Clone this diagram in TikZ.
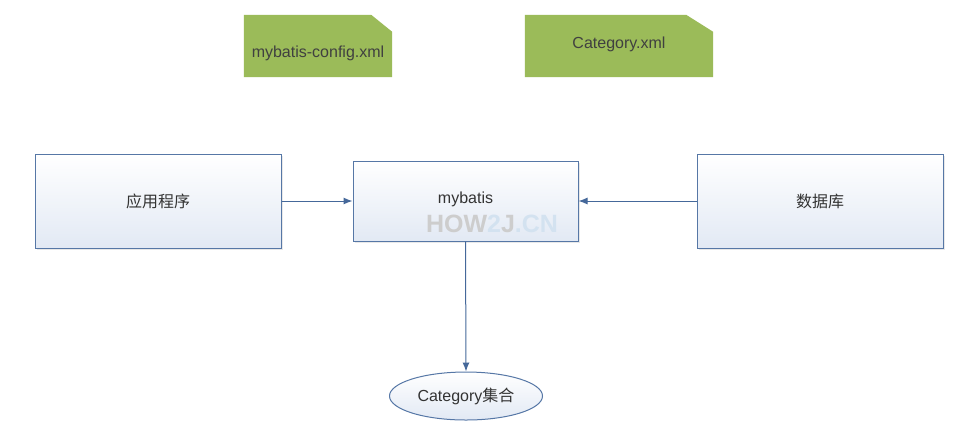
\documentclass[tikz,border=0pt]{standalone}
\usepackage{fontspec}
\setmainfont{Liberation Sans}
\newfontfamily\cjk{Noto Sans CJK SC}
\usetikzlibrary{arrows.meta,shapes.geometric,shadows,backgrounds}
\definecolor{docgreen}{HTML}{9BBB59}
\definecolor{boxline}{HTML}{5677A6}
\definecolor{boxfill}{HTML}{E2E9F4}
\definecolor{arrowblue}{HTML}{45689A}
\definecolor{markgray}{HTML}{CDCDCD}
\definecolor{markblue}{HTML}{D3E2F0}
\begin{document}
\begin{tikzpicture}[x=1pt, y=-1pt,
    font=\fontsize{16}{19}\selectfont,
    doc/.style={minimum height=62pt, inner sep=0pt},
    doctext/.style={text=black!75},
    box/.style={draw=boxline, line width=1pt, top color=white, bottom color=boxfill,
        minimum width=246pt, minimum height=94pt, text=black!80,
        drop shadow={opacity=0.18, shadow xshift=1.5pt, shadow yshift=-1.5pt}},
    link/.style={draw=arrowblue, line width=1pt, -{Latex[length=9pt,width=7pt]}}]
    \useasboundingbox (0,0) rectangle (965,432);

    % config files
    \node[doc, minimum width=148pt,
        label={[doctext, yshift=-7pt]center:mybatis-config.xml}] (cfg) at (318,46) {};
    \node[doc, minimum width=188pt,
        label={[doctext, yshift=2pt]center:Category.xml}] (cat) at (619,46) {};
    \begin{scope}[on background layer]
        \fill[docgreen] (cfg.south west) -- (cfg.north west) -- ([xshift=-21pt]cfg.north east)
            -- ([yshift=-17pt]cfg.north east) -- (cfg.south east) -- cycle;
        \fill[docgreen] (cat.south west) -- (cat.north west) -- ([xshift=-27pt]cat.north east)
            -- ([yshift=-17pt]cat.north east) -- (cat.south east) -- cycle;
    \end{scope}

    % main boxes
    \node[box] (app) at (158,201) {\cjk 应用程序};
    \node[box, minimum width=225pt, minimum height=80pt] (mb) at (465.5,201) {};
    \node[box] (db) at (820,201) {\cjk 数据库};
    \node[text=black!80] (mbtext) at (465.5,199) {mybatis};
    \node[font=\fontsize{25}{28}\selectfont\bfseries] (mark) at (492,224)
        {\textcolor{markgray}{HOW}\textcolor{markblue}{2}\textcolor{markgray}{J}\textcolor{markblue}{.CN}};

    % result
    \node[ellipse, draw=boxline, line width=1pt, top color=white, bottom color=boxfill,
        minimum width=153pt, minimum height=48pt, inner sep=0pt, text=black!80] (res) at (466,396)
        {Category{\cjk 集合}};

    \draw[link] (app) -- (mb);
    \draw[link] (db) -- (mb);
    \draw[link] (mb.south) -- (res.north);
\end{tikzpicture}
\end{document}
